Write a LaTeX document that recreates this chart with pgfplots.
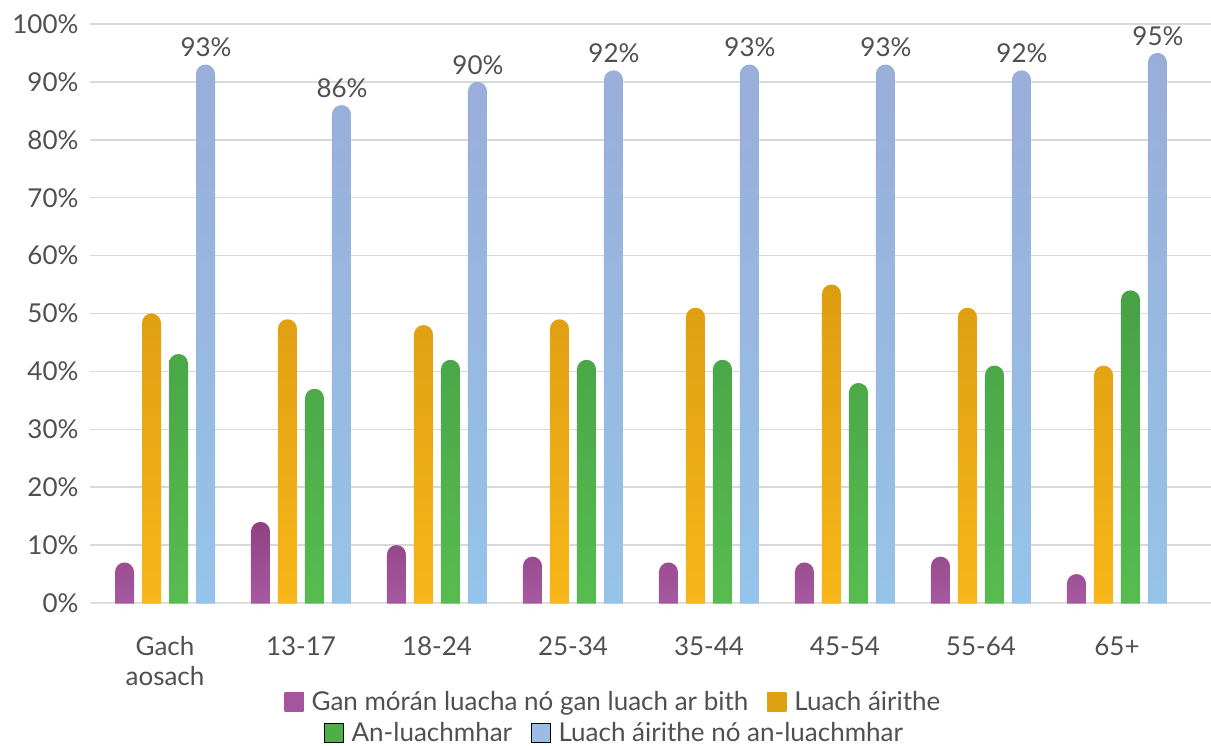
\documentclass[border=0pt]{standalone}
\usepackage{pgfplots}
\pgfplotsset{compat=1.18}
\usepackage{pgfplotstable}
\usepackage{fontspec}
\setmainfont{Lato}

\definecolor{txt}{HTML}{505050}
\definecolor{gridc}{HTML}{D9D9D9}
\definecolor{purT}{HTML}{914182}
\definecolor{purB}{HTML}{A95DA5}
\definecolor{orT}{HTML}{DE9D10}
\definecolor{orB}{HTML}{F8B81A}
\definecolor{grT}{HTML}{47A145}
\definecolor{grB}{HTML}{58BD51}
\definecolor{blT}{HTML}{99ADD8}
\definecolor{blB}{HTML}{96C4EA}
\definecolor{purL}{HTML}{A5559E}
\definecolor{orL}{HTML}{DFA012}
\definecolor{grL}{HTML}{4EAF48}
\definecolor{blL}{HTML}{9BBCE4}

\pgfplotstableread{
x purple orange green blue
0 7  50 43 93
1 14 49 37 86
2 10 48 42 90
3 8  49 42 92
4 7  51 42 93
5 7  55 38 93
6 8  51 41 92
7 5  41 54 95
}\datatable

\newcommand{\legsq}[1]{\path[fill=#1, top color=#1, bottom color=#1, sharp corners] (0bp,-9.5bp) rectangle (19bp,9.5bp);}

\begin{document}
\begin{tikzpicture}[font=\fontsize{26bp}{30bp}\selectfont]
\path[use as bounding box] (0,0) rectangle (1211bp,746bp);
\begin{scope}
\clip (0,0) rectangle (90bp,746bp)
      (90bp,0) rectangle (1211bp,131.42bp)
      (90bp,142.25bp) rectangle (1211bp,746bp);
\begin{axis}[
  at={(90bp,131.42bp)}, anchor=south west,
  scale only axis, width=1121bp, height=590.58bp,
  xmin=-0.5515, xmax=7.691,
  ymin=0, ymax=102,
  /pgf/number format/assume math mode=true,
  axis line style={draw=none},
  tick style={draw=none},
  ymajorgrids, grid style={gridc, line width=1.5bp},
  ytick={2,12,22,32,42,52,62,72,82,92,102},
  yticklabels={0\%,10\%,20\%,30\%,40\%,50\%,60\%,70\%,80\%,90\%,100\%},
  yticklabel style={text=txt, xshift=-8bp},
  xtick={0,...,7},
  xticklabels={{Gach\\aosach},13-17,18-24,25-34,35-44,45-54,55-64,65+},
  xticklabel style={text=txt, align=center, yshift=-18.5bp},
  y filter/.expression={y+2},
  legend columns=2,
  legend style={draw=none, fill=none, at={(0.467,-0.148)}, anchor=center,
    inner sep=0pt, text=txt, font=\fontsize{26bp}{30bp}\selectfont,
    /tikz/every odd column/.style={column sep=6bp},
    /tikz/every even column/.style={column sep=17bp}},
  every axis plot/.append style={ybar, bar width=19bp, draw=none, rounded corners=9.5bp},
]
\addplot[top color=purT, bottom color=purB, bar shift=-40.5bp,
  legend image code/.code={\legsq{purL}}] table[x=x,y=purple]{\datatable};
\addplot[top color=orT, bottom color=orB, bar shift=-13.5bp,
  legend image code/.code={\legsq{orL}}] table[x=x,y=orange]{\datatable};
\addplot[top color=grT, bottom color=grB, bar shift=13.5bp] table[x=x,y=green]{\datatable};
\addplot[top color=blT, bottom color=blB, bar shift=40.5bp,
  point meta=rawy, nodes near coords={\pgfmathprintnumber{\pgfplotspointmeta}\%},
  every node near coord/.append style={text=txt, anchor=south, yshift=4bp, xshift=41bp,
    font=\fontsize{26bp}{30bp}\selectfont}] table[x=x,y=blue]{\datatable};
\legend{Gan mórán luacha nó gan luach ar bith, Luach áirithe}
\end{axis}
\end{scope}
\begin{axis}[
  at={(90bp,143bp)}, anchor=south west,
  scale only axis, width=1121bp, height=579bp,
  hide axis, xmin=0, xmax=1, ymin=0, ymax=1,
  legend columns=2,
  legend style={draw=none, fill=none, at={(0.468,-0.2245)}, anchor=center,
    inner sep=0pt, text=txt, font=\fontsize{26bp}{30bp}\selectfont,
    /tikz/every odd column/.style={column sep=6bp},
    /tikz/every even column/.style={column sep=17bp}},
]
\addlegendimage{legend image code/.code={\legsq{grL}}}
\addlegendimage{legend image code/.code={\legsq{blL}}}
\legend{An-luachmhar, Luach áirithe nó an-luachmhar}
\end{axis}
\end{tikzpicture}
\end{document}
